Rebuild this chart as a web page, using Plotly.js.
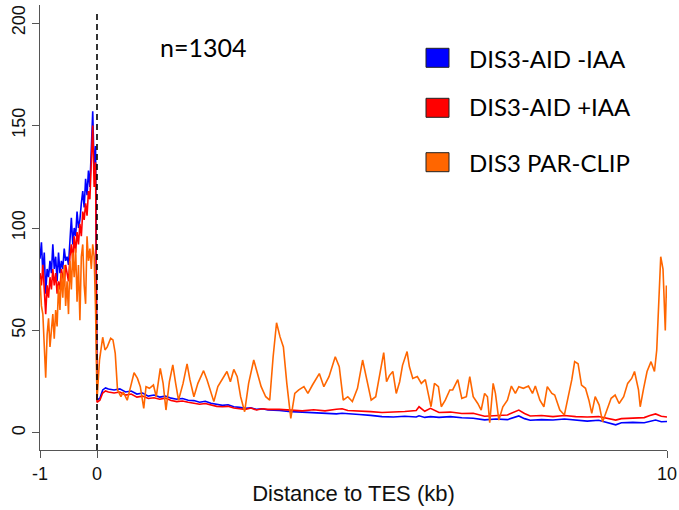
<!DOCTYPE html>
<html>
<head>
<meta charset="utf-8">
<script src="https://cdn.plot.ly/plotly-3.0.1.min.js"></script>
<style>html,body{margin:0;padding:0;background:#fff;}#chart{width:679px;height:510px;}</style>
</head>
<body>
<div id="chart"></div>
<script>
// Upstream of TES (kb)
const leftX = [-1, -0.975, -0.95, -0.925, -0.9, -0.875, -0.85, -0.825, -0.8, -0.775,
  -0.75, -0.725, -0.7, -0.675, -0.65, -0.625, -0.6, -0.575, -0.55, -0.525,
  -0.5, -0.475, -0.45, -0.425, -0.4, -0.375, -0.35, -0.325, -0.3, -0.275,
  -0.25, -0.225, -0.2, -0.175, -0.15, -0.125, -0.1, -0.075, -0.05, -0.025];
const blueLeft = [85,93,78,88,68, 80,76,84,78,92, 80,86,74,88,78, 84,80,90,84,86,
  82,96,105,92,100, 96,108,100,104,112, 118,110,124,116,128, 120,140,157,128,140];
const redLeft = [78,72,82,70,58, 72,66,76,70,80, 72,78,68,74,70, 80,76,72,82,78,
  74,86,92,84,96, 88,98,92,102,96, 108,104,112,106,118, 114,130,150,120,132];
const orangeLeft = [75,62,58,45,27, 48,56,42,52,58, 46,60,52,72,60, 78,66,82,62,74,
  58,84,70,88,76, 90,64,82,55,86, 92,72,63,96,84, 90,80,92,86,60];

// Downstream of TES (kb)
const rightX = [0, 0.05, 0.1, 0.15, 0.2, 0.3, 0.4, 0.5, 0.6, 0.7, 0.8, 0.9, 1.0, 1.1, 1.2,
  1.3, 1.4, 1.5, 1.6, 1.7, 1.8, 1.9, 2.0, 2.1, 2.2, 2.3, 2.4, 2.5, 2.6, 2.7,
  2.8, 2.9, 3.0, 3.2, 3.4, 3.6, 3.8, 4.0, 4.2, 4.3, 4.4, 4.6, 4.8, 5.0, 5.2,
  5.4, 5.6, 5.65, 5.75, 5.85, 6.0, 6.2, 6.4, 6.6, 6.8, 7.0, 7.2, 7.4, 7.5, 7.6,
  7.8, 8.0, 8.2, 8.4, 8.6, 8.8, 9.0, 9.1, 9.2, 9.4, 9.6, 9.7, 9.8, 9.9, 10.0];
const blueRight = [16,17,21,22,21.5, 21,21.5,20,20.5,19, 19.5,18,18.5,17.5,18,
  17,16.5,16.8,16,15.8, 15,15.5,14.5,14,13.5, 13.8,12.8,12.5,12,12.3,
  11.5,11.8,11.2,11,10.4, 10.2,10,9.6,9.3,9.6, 9.5,9,8.6,8,7.8,
  8.2,7.8,8.4,7.6,8, 7.6,8,7.4,7.2,6.4, 6.8,6.5,8.3,7,6.2,
  6.5,6.3,6.8,6.2,5.8, 6.2,4.5,4,5,5.2, 5,5.8,6.3,5.5,5.6];
const redRight = [15,16,19.5,20.5,20, 19.5,20,18.5,19,17.5, 18,16.8,17.2,16.5,17,
  15.8,15.3,15.6,15,14.6, 14,14.4,13.6,13,12.8, 13,12.2,11.8,11.5,12.2,
  11.2,11.8,11.5,11.5,11, 10.8,11.3,10.8,11.6,11.8, 11,10.8,10.4,10,10.2,
  10.5,11,12.8,10.6,12, 10,10.2,9.5,9.6,8.2, 8.6,8.8,11.2,9.5,8.3,
  8.5,8,8.5,8,7.8, 8,6.8,6.3,7,7.2, 7.5,8.5,9.3,8.2,7.8];

const orangeRightX = [0, 0.044, 0.1, 0.14, 0.18, 0.24, 0.28, 0.32, 0.36, 0.42, 0.46, 0.53, 0.59, 0.65, 0.71,
  0.76, 0.82, 0.86, 0.92, 0.99, 1.04, 1.11, 1.16, 1.21, 1.27, 1.33, 1.38, 1.43, 1.51, 1.58,
  1.63, 1.7, 1.77, 1.87, 1.93, 1.99, 2.05, 2.12, 2.19, 2.28, 2.34, 2.4, 2.46, 2.52, 2.59,
  2.66, 2.75, 2.81, 2.88, 2.96, 3.03, 3.09, 3.15, 3.21, 3.27, 3.33, 3.4, 3.47, 3.54, 3.63,
  3.7, 3.78, 3.9, 3.98, 4.07, 4.18, 4.25, 4.32, 4.4, 4.48, 4.57, 4.66, 4.74, 4.81, 4.89,
  5.03, 5.08, 5.13, 5.19, 5.25, 5.31, 5.36, 5.44, 5.48, 5.54, 5.62, 5.69, 5.76, 5.81, 5.86,
  5.92, 5.99, 6.04, 6.11, 6.19, 6.24, 6.33, 6.4, 6.48, 6.54, 6.6, 6.68, 6.74, 6.8, 6.85,
  6.89, 6.95, 6.99, 7.05, 7.12, 7.2, 7.27, 7.34, 7.4, 7.48, 7.57, 7.64, 7.69, 7.77, 7.84,
  7.9, 7.98, 8.03, 8.12, 8.2, 8.27, 8.33, 8.38, 8.44, 8.5, 8.57, 8.63, 8.68, 8.74, 8.81,
  8.87, 8.94, 9.02, 9.09, 9.16, 9.24, 9.31, 9.38, 9.43, 9.5, 9.53, 9.59, 9.65, 9.72, 9.78,
  9.82, 9.85, 9.89, 9.93, 9.97, 9.99, 10.0];
const orangeRightY = [16, 35.6, 46.7, 40.5, 42, 46.2, 45.4, 38.8, 21, 17.7, 20, 16, 22.6, 29.4, 26.6,
  22.6, 12, 22.6, 21.8, 23.4, 17.7, 31.5, 24.2, 11.2, 25, 33.2, 24.2, 16, 24.2, 33.7,
  26, 17.7, 24.2, 30.4, 26, 20.2, 15.3, 22.6, 26, 30, 25, 31, 27.5, 17.7, 10.4,
  24.2, 35.6, 30, 22.6, 17.7, 16, 37.2, 53.8, 47, 42, 24.2, 7.1, 19.3, 21, 22.6,
  19.3, 23.4, 29, 22.6, 27.5, 37.2, 32.4, 16, 17.7, 15.3, 21.8, 35.6, 26, 16, 17.7,
  39.2, 25, 28, 30, 19.3, 25, 33, 39.7, 32.4, 26.6, 27.5, 24.2, 26, 19.3, 12.8,
  24.2, 22.6, 12.8, 16, 21, 21, 26, 16.9, 17.7, 27.5, 17.7, 14.4, 11.2, 19.3, 17.7,
  5, 24.2, 19.3, 6.3, 12.8, 16, 22.9, 19.3, 22.6, 21.8, 22.9, 19.3, 22.9, 16, 12.8,
  22.6, 19.3, 18.5, 11.2, 8.8, 17.7, 26, 34.8, 33.8, 23.4, 21.8, 16, 9.6, 17.7, 13.6,
  5.4, 11.2, 16.9, 18.5, 14.4, 17.7, 24.2, 26.6, 30, 21, 12.8, 21.8, 30, 34.8, 30,
  40.5, 61, 86, 80, 50, 72, 66];

const seriesNames = ['DIS3-AID -IAA', 'DIS3-AID +IAA', 'DIS3 PAR-CLIP'];
const seriesColors = ['#0000ff', '#ff0000', '#ff6600'];
const xTickVals = [-1, 0, 10];
const xTickText = ['-1', '0', '10'];
const yTickVals = [0, 50, 100, 150, 200];
const annotationN = 'n=1304';
const xTitle = 'Distance to TES (kb)';

const traces = [
  {x: leftX.concat(rightX), y: blueLeft.concat(blueRight)},
  {x: leftX.concat(rightX), y: redLeft.concat(redRight)},
  {x: leftX.concat(orangeRightX), y: orangeLeft.concat(orangeRightY)}
].map((t, i) => ({
  x: t.x, y: t.y, type: 'scatter', mode: 'lines', name: seriesNames[i],
  line: {color: seriesColors[i], width: 1.6}, hoverinfo: 'skip', showlegend: false
}));

const W = 679, H = 510, L = 40, R = 12, T = 5, B = 60;
const pw = W - L - R, ph = H - T - B;
const px2x = p => (p - L) / pw;
const py2y = p => (H - B - p) / ph;

const legendRows = [[48.3, 67.3], [98.3, 117.3], [152.7, 171.7]];
const legendTextY = [58, 107, 162];
const shapes = [{
  type: 'line', xref: 'x', yref: 'paper', x0: 0, x1: 0, y0: 0, y1: py2y(10),
  line: {color: '#000', width: 1.6, dash: '6px,4px'}
}];
const annotations = [{
  xref: 'paper', yref: 'paper', x: px2x(158), y: py2y(47), xanchor: 'left', yanchor: 'middle',
  text: annotationN, showarrow: false, font: {family: 'Lato, sans-serif', size: 25, color: '#000'}
}];
legendRows.forEach((r, i) => {
  shapes.push({
    type: 'rect', xref: 'paper', yref: 'paper', x0: px2x(426), x1: px2x(449),
    y0: py2y(r[1]), y1: py2y(r[0]), fillcolor: seriesColors[i], line: {color: '#222', width: 1}
  });
  annotations.push({
    xref: 'paper', yref: 'paper', x: px2x(467), y: py2y(legendTextY[i]), xanchor: 'left', yanchor: 'middle',
    text: seriesNames[i], showarrow: false, font: {family: 'Lato, sans-serif', size: 24, color: '#000'}
  });
});

const axisFont = {family: 'Liberation Sans, Arial, sans-serif', size: 18, color: '#111'};
const layout = {
  width: W, height: H,
  margin: {l: L, r: R, t: T, b: B},
  paper_bgcolor: '#fff', plot_bgcolor: '#fff',
  showlegend: false,
  xaxis: {
    range: [-1, 10], tickvals: xTickVals, ticktext: xTickText,
    ticks: 'outside', ticklen: 7, tickcolor: '#555', tickwidth: 1,
    showline: true, linecolor: '#555', linewidth: 1,
    showgrid: false, zeroline: false, tickfont: axisFont, automargin: false,
    title: {text: xTitle, font: {family: 'Liberation Sans, Arial, sans-serif', size: 22, color: '#111'}, standoff: 3}
  },
  yaxis: {
    range: [-8.3, 208.8], tickvals: yTickVals, tickangle: -90,
    ticks: 'outside', ticklen: 7, tickcolor: '#555', tickwidth: 1,
    showline: true, linecolor: '#555', linewidth: 1,
    showgrid: false, zeroline: false, tickfont: axisFont, automargin: false
  },
  shapes: shapes,
  annotations: annotations
};

Plotly.newPlot('chart', traces, layout, {displayModeBar: false, staticPlot: true});
</script>
</body>
</html>
